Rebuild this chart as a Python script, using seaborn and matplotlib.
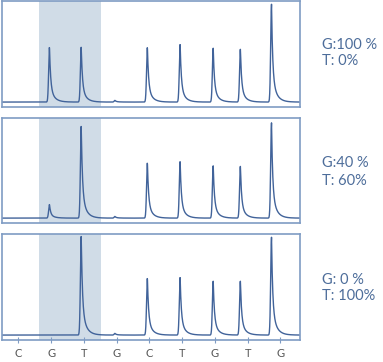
import numpy as np
import pandas as pd
import matplotlib
matplotlib.use("Agg")
import matplotlib.pyplot as plt
import seaborn as sns

# -------------------------------
# data
# -------------------------------
dispensation = ["C", "G", "T", "G", "C", "T", "G", "T", "G"]
peak_pos = [1.95, 2.92, 3.95, 4.94, 5.94, 6.95, 7.78, 8.73]
heights_g100 = [1.00, 1.00, 0.03, 1.00, 1.05, 0.98, 0.96, 1.78]
heights_g40 = [0.25, 1.69, 0.03, 1.02, 1.04, 0.96, 0.95, 1.75]
heights_g0 = [0.00, 1.80, 0.03, 1.04, 1.05, 0.98, 0.98, 1.78]
labels = ["G:100 %\nT: 0%", "G:40 %\nT: 60%", "G: 0 %\nT: 100%"]
shade_range = (1.64, 3.53)

line_col = "#41639a"
edge_col = "#7f9cc4"
shade_col = "#d0dce7"
text_col = "#4d6d9a"

sns.set_style("white")
plt.rcParams["font.family"] = ["Lato", "DejaVu Sans"]


def trace(heights):
    # pyrogram-like peaks: fast rise, exponential tail
    x = np.linspace(0.5, 9.6, 1800)
    y = np.zeros_like(x)
    for p, h in zip(peak_pos, heights):
        t = x - p
        rise = np.exp(-0.5 * (t / 0.025) ** 2)
        tail = 0.72 * np.exp(-t / 0.035) + 0.28 * np.exp(-t / 0.13)
        y += h * np.where(t < 0, rise, tail)
    return pd.DataFrame({"x": x, "signal": y})


fig = plt.figure(figsize=(3.83, 3.62), dpi=100)
W, H = 383, 362
# panel boxes in pixels: (top, bottom)
boxes = [(1, 107), (118, 223), (234, 340)]
all_heights = [heights_g100, heights_g40, heights_g0]
text_y = [(45, 61), (163, 181), (280, 296)]

for i, ((top, bot), hts, lab) in enumerate(zip(boxes, all_heights, labels)):
    ax = fig.add_axes([2 / W, 1 - bot / H, 298 / W, (bot - top) / H])
    ax.axvspan(*shade_range, color=shade_col, lw=0, zorder=0)
    df = trace(hts)
    sns.lineplot(data=df, x="x", y="signal", ax=ax, color=line_col,
                 lw=1.0, estimator=None, zorder=2)
    ax.set_xlim(0.5, 9.6)
    ax.set_ylim(-0.09, 1.84)
    ax.set_xlabel("")
    ax.set_ylabel("")
    ax.set_yticks([])
    for s in ax.spines.values():
        s.set_color(edge_col)
        s.set_linewidth(1.2)
    if i == 2:
        ax.set_xticks(range(1, 10))
        ax.set_xticklabels(dispensation, fontsize=8, color="#555555")
        ax.tick_params(axis="x", direction="inout", length=5, width=0.8,
                       color=edge_col, pad=3, bottom=True)
    else:
        ax.set_xticks([])
    g_line, t_line = lab.split("\n")
    fig.text(322 / W, 1 - text_y[i][0] / H, g_line, fontsize=10.5,
             color=text_col, va="center", ha="left")
    fig.text(322 / W, 1 - text_y[i][1] / H, t_line, fontsize=10.5,
             color=text_col, va="center", ha="left")

fig.savefig("out.png", dpi=100)
